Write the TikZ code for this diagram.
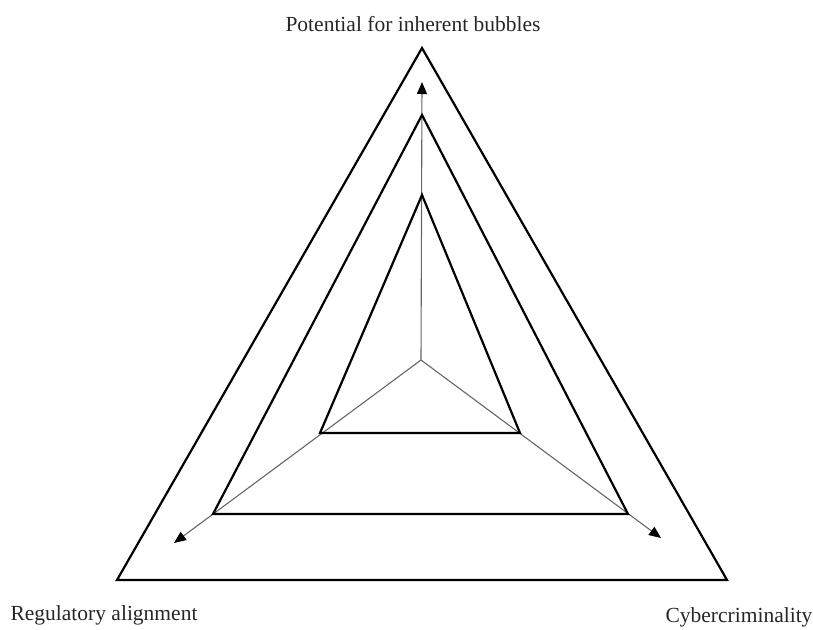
\documentclass[tikz,border=0pt]{standalone}
\usepackage{fontspec}
\setmainfont{Liberation Serif}
\usetikzlibrary{arrows.meta, positioning}

\begin{document}
\begin{tikzpicture}[
    x=1pt, y=-1pt,
    frame/.style={draw, line width=2.2pt, line join=miter},
    axis/.style={draw, black!60, line width=1.1pt, -{Triangle[length=12pt, width=10pt, color=black]}},
    label/.style={anchor=base, font=\fontsize{21.5}{25}\selectfont, text=black!85}
]
\useasboundingbox (0,0) rectangle (813,629);

% centre and axis tips
\coordinate (o) at (421,360);
\coordinate (up) at (422,82);
\coordinate (left) at (174,543);
\coordinate (right) at (661,538);

% vertices of the three triangles
\coordinate (outerT) at (422,48);
\coordinate (outerL) at (117,580);
\coordinate (outerR) at (727,580);
\coordinate (midT) at (422,115);
\coordinate (midL) at (213,514);
\coordinate (midR) at (628,514);
\coordinate (innerT) at (422,195);
\coordinate (innerL) at (320,433);
\coordinate (innerR) at (520,433);

\draw[axis] (o) -- (up);
\draw[axis] (o) -- (left);
\draw[axis] (o) -- (right);

\draw[frame] (outerT) -- (outerL) -- (outerR) -- cycle;
\draw[frame] (midT) -- (midL) -- (midR) -- cycle;
\draw[frame] (innerT) -- (innerL) -- (innerR) -- cycle;

\node[label] (bubbles) at (413,31) {Potential for inherent bubbles};
\node[label] (regulatory) at (104,620) {Regulatory alignment};
\node[label] (cyber) at (739,622) {Cybercriminality};

\end{tikzpicture}
\end{document}
